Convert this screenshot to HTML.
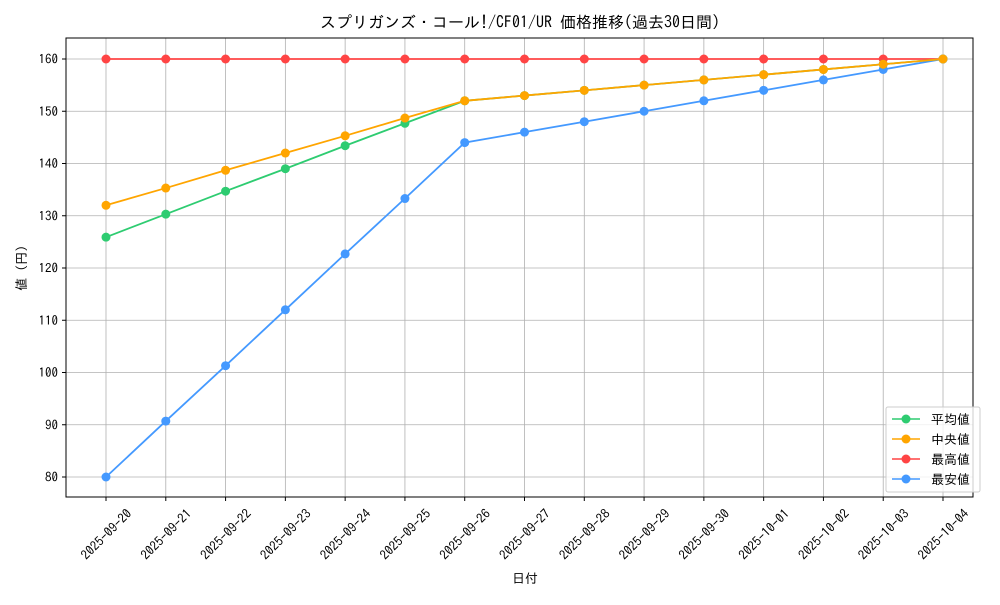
<!DOCTYPE html>
<html><head><meta charset="utf-8"><style>
html,body{margin:0;padding:0;background:#fff}
text{font-family:"IPAGothic","Noto Sans CJK JP",monospace;fill:#000}
</style></head><body>
<svg width="1000" height="600" xmlns="http://www.w3.org/2000/svg">
<rect width="1000" height="600" fill="#fff"/>
<g id="grid" stroke="#b0b0b0" stroke-width="0.8"></g>
<rect x="66" y="38" width="907" height="459" fill="none" stroke="#000" stroke-width="1"/>
<g id="ticks"></g>
<g id="series"></g>
<text x="520" y="28" font-size="16" text-anchor="middle">スプリガンズ・コール!/CF01/UR 価格推移(過去30日間)</text>
<text x="525" y="583" font-size="13" text-anchor="middle">日付</text>
<text x="26" y="268" font-size="13" text-anchor="middle" transform="rotate(-90 26 268)">値 (円)</text>
<g>
<rect x="886" y="407" width="94" height="85" fill="#fff" fill-opacity="0.8" stroke="#ccc" rx="2"/>
<line x1="892" y1="419" x2="920" y2="419" stroke="#2ecc71" stroke-width="1.5"/><circle cx="906" cy="419" r="4.5" fill="#2ecc71"/><text x="931" y="424" font-size="13">平均値</text>
<line x1="892" y1="439" x2="920" y2="439" stroke="#ffa500" stroke-width="1.5"/><circle cx="906" cy="439" r="4.5" fill="#ffa500"/><text x="931" y="444" font-size="13">中央値</text>
<line x1="892" y1="459" x2="920" y2="459" stroke="#ff4444" stroke-width="1.5"/><circle cx="906" cy="459" r="4.5" fill="#ff4444"/><text x="931" y="464" font-size="13">最高値</text>
<line x1="892" y1="479" x2="920" y2="479" stroke="#4499ff" stroke-width="1.5"/><circle cx="906" cy="479" r="4.5" fill="#4499ff"/><text x="931" y="484" font-size="13">最安値</text>
</g>
</svg>
<script>
const ns="http://www.w3.org/2000/svg";
const X=i=>106+i*59.786, Y=v=>477-(v-80)*5.225;
const g=document.getElementById('grid'),t=document.getElementById('ticks'),s=document.getElementById('series');
function el(p,n,a,txt){const e=document.createElementNS(ns,n);for(const k in a)e.setAttribute(k,a[k]);if(txt)e.textContent=txt;p.appendChild(e);return e;}
const dates=["2025-09-20","2025-09-21","2025-09-22","2025-09-23","2025-09-24","2025-09-25","2025-09-26","2025-09-27","2025-09-28","2025-09-29","2025-09-30","2025-10-01","2025-10-02","2025-10-03","2025-10-04"];
dates.forEach((d,i)=>{const x=X(i);el(g,'line',{x1:x,x2:x,y1:38,y2:497});el(t,'line',{x1:x,x2:x,y1:497,y2:501,stroke:'#000'});
el(t,'text',{x:x,y:539,'font-size':13,'text-anchor':'middle',transform:`rotate(-45 ${x} 534)`},d);});
for(let v=80;v<=160;v+=10){const y=Y(v);el(g,'line',{x1:66,x2:973,y1:y,y2:y});el(t,'line',{x1:62,x2:66,y1:y,y2:y,stroke:'#000'});
el(t,'text',{x:58,y:y+4.5,'font-size':13,'text-anchor':'end'},String(v));}
const S=[
["#ff4444",Array(15).fill(160)],
["#4499ff",[80,90.7,101.3,112,122.7,133.3,144,146,148,150,152,154,156,158,160]],
["#2ecc71",[125.9,130.3,134.7,139,143.4,147.7,152,153,154,155,156,157,158,159,160]],
["#ffa500",[132,135.3,138.7,142,145.3,148.7,152,153,154,155,156,157,158,159,160]]];
S.forEach(([c,d])=>{el(s,'polyline',{points:d.map((v,i)=>X(i)+','+Y(v)).join(' '),fill:'none',stroke:c,'stroke-width':1.8});
d.forEach((v,i)=>el(s,'circle',{cx:X(i),cy:Y(v),r:4.5,fill:c}));});
</script>
</body></html>
